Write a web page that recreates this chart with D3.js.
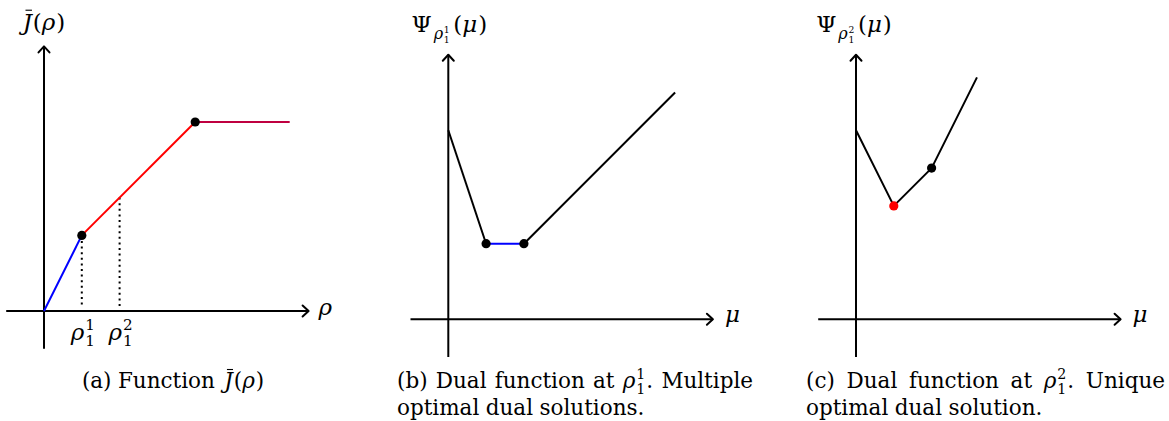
<!DOCTYPE html>
<html>
<head>
<meta charset="utf-8">
<script src="https://cdn.jsdelivr.net/npm/d3@7"></script>
<style>
  body { margin: 0; background: #fff; }
  text { font-family: "DejaVu Serif", "Liberation Serif", serif; white-space: pre; fill: #000; }
</style>
</head>
<body>
<div id="wrapper"></div>
<script>
// axis extent, same for all three panels (plot units)
const axisRange = [-1, 7]

// (a) J(rho): linear pieces, breakpoints, dotted drops
const aBlue = [[0, 0], [1, 2]]
const aRed = [[1, 2], [4, 5]]
const aPurple = [[4, 5], [6.5, 5]]
const aDots = [[1, 2], [4, 5]]
const aDrops = [[1, 2], [2, 3]]
const aTicks = [{x: 1, sup: "1"}, {x: 2, sup: "2"}]

// (b) dual function at rho_1^1
const bLeft = [[0, 5], [1, 2]]
const bFlat = [[1, 2], [2, 2]]
const bRight = [[2, 2], [6, 6]]
const bDots = [[1, 2], [2, 2]]

// (c) dual function at rho_1^2
const cLine = [[0, 5], [1, 3], [2, 4], [3.2, 6.4]]
const cOptimum = [[1, 3]]
const cDots = [[2, 4]]

function drawFigure() {

  // 1. dimensions
  const dimensions = { width: 1169, height: 421 }
  const unit = 37.8
  const fontSize = 21.5   // captions
  const labelSize = 23    // axis labels

  const wrapper = d3.select("#wrapper")
    .append("svg")
      .attr("width", dimensions.width)
      .attr("height", dimensions.height)

  // 2. helpers
  function put(g, x, y, str, size, italic) {
    return g.append("text")
      .attr("x", x).attr("y", y)
      .attr("font-size", size)
      .attr("font-style", italic ? "italic" : null)
      .text(str)
  }
  const textWidth = t => t.node().getComputedTextLength()

  // lays a run of tokens left to right; " " is a stretchable space
  function richLine(g, x0, y, tokens, opts = {}) {
    const base = opts.size || fontSize
    const placed = []
    let cx = 0, spaces = 0
    tokens.forEach(tok => {
      if (tok === " ") { cx += base * 0.3; spaces++; return }
      if (tok.gap) { cx += tok.gap; return }
      const size = tok.size || base
      const by = y + (tok.dy || 0)
      if (tok.sc) {
        // stacked super/subscript in one text element
        const s = size * 0.66
        const t = g.append("text").attr("font-size", s)
        const sup = t.append("tspan").attr("y", by - size * 0.42).text(tok.sc[0])
        const sub = t.append("tspan").attr("y", by + size * 0.27).text(tok.sc[1])
        const node = t.node()
        const w = Math.max(node.getSubStringLength(0, 1), node.getSubStringLength(1, 1))
        const off = cx, sp = spaces
        placed.push({off, sp, set: dx => { sup.attr("x", dx); sub.attr("x", dx) }})
        cx += w + size * 0.05
        return
      }
      const t = put(g, 0, by, tok.t, size, tok.it)
      const w = textWidth(t)
      const off = cx, sp = spaces
      placed.push({off, sp, set: dx => t.attr("x", dx)})
      if (tok.bar) {
        const bar = g.append("line")
          .attr("y1", by - size * 0.86).attr("y2", by - size * 0.86)
          .attr("stroke", "#000").attr("stroke-width", 1.1)
        placed.push({off, sp, set: dx => bar.attr("x1", dx + w * 0.3).attr("x2", dx + w * 1.0)})
      }
      cx += w + (tok.it ? size * 0.04 : 0)
    })
    let start = x0, extra = 0
    if (opts.anchor === "middle") start = x0 - cx / 2
    if (opts.justify && spaces) extra = (opts.justify - cx) / spaces
    placed.forEach(p => p.set(start + p.off + p.sp * extra))
  }

  function arrowHead(g, x, y, dir) {
    const pts = dir === "right"
      ? [[x - 6, y - 5.5], [x, y], [x - 6, y + 5.5]]
      : [[x - 5.5, y + 6], [x, y], [x + 5.5, y + 6]]
    g.append("path")
      .attr("d", d3.line()(pts))
      .attr("fill", "none").attr("stroke", "#000")
      .attr("stroke-width", 2).attr("stroke-linecap", "round")
      .attr("stroke-linejoin", "round")
  }

  // 3. one panel: scales, axes, labels
  function panel(ox, oy) {
    const g = wrapper.append("g")
    const xScale = d3.scaleLinear().domain([0, 1]).range([ox, ox + unit])
    const yScale = d3.scaleLinear().domain([0, 1]).range([oy, oy - unit])
    const line = d3.line().x(d => xScale(d[0])).y(d => yScale(d[1]))

    g.append("path")
      .attr("d", line([[axisRange[0], 0], [axisRange[1], 0]]))
      .attr("stroke", "#000").attr("stroke-width", 2)
    g.append("path")
      .attr("d", line([[0, axisRange[0]], [0, axisRange[1]]]))
      .attr("stroke", "#000").attr("stroke-width", 2)
    arrowHead(g, xScale(axisRange[1]), yScale(0), "right")
    arrowHead(g, xScale(0), yScale(axisRange[1]), "up")

    const path = (data, color) => g.append("path")
      .attr("d", line(data))
      .attr("fill", "none").attr("stroke", color)
      .attr("stroke-width", 2).attr("stroke-linejoin", "round")
    const dots = (data, color) => g.selectAll(null)
      .data(data).join("circle")
        .attr("cx", d => xScale(d[0]))
        .attr("cy", d => yScale(d[1]))
        .attr("r", 4.6)
        .attr("fill", color)

    return {g, xScale, yScale, path, dots}
  }

  // 4. panel (a)
  const a = panel(44, 311)
  aDrops.forEach(d => a.g.append("path")
    .attr("d", d3.line().x(p => a.xScale(p[0])).y(p => a.yScale(p[1]))([[d[0], d[1]], [d[0], 0.12]]))
    .attr("stroke", "#000").attr("stroke-width", 2)
    .attr("stroke-dasharray", "2,3.6"))
  a.path(aBlue, "#0000ff")
  a.path(aRed, "#ff0000")
  a.path(aPurple, "#bf0040")
  a.dots(aDots, "#000")
  aTicks.forEach(t => richLine(a.g, a.xScale(t.x) - 11, 340,
    [{t: "ρ", it: true}, {sc: [t.sup, "1"]}], {size: labelSize}))
  richLine(a.g, a.xScale(7) + 10, 315, [{t: "ρ", it: true}], {size: labelSize})
  richLine(a.g, a.xScale(0), 30,
    [{t: "J", it: true, bar: true}, {t: "("}, {t: "ρ", it: true}, {t: ")"}],
    {anchor: "middle", size: labelSize})
  richLine(a.g, 173, 388,
    [{t: "(a)"}, " ", {t: "Function"}, " ", {gap: 3}, {t: "J", it: true, bar: true},
     {t: "("}, {t: "ρ", it: true}, {t: ")"}],
    {anchor: "middle"})

  // 5. panel (b)
  const b = panel(448.3, 319.3)
  b.path(bLeft, "#000")
  b.path(bFlat, "#0000ff")
  b.path(bRight, "#000")
  b.dots(bDots, "#000")
  richLine(b.g, b.xScale(7) + 12, 322, [{t: "μ", it: true}], {size: labelSize})
  richLine(b.g, b.xScale(0) + 1, 32,
    [{t: "Ψ"}, {gap: 2}, {t: "ρ", it: true, size: 16, dy: 7}, {sc: ["1", "1"], size: 14, dy: 7},
     {gap: 3}, {t: "("}, {t: "μ", it: true}, {t: ")"}], {anchor: "middle", size: labelSize})
  richLine(b.g, 397, 388,
    [{t: "(b)"}, " ", {t: "Dual"}, " ", {t: "function"}, " ", {t: "at"}, " ",
     {t: "ρ", it: true}, {sc: ["1", "1"]}, {t: "."}, " ", {t: "Multiple"}], {justify: 356})
  richLine(b.g, 397, 415,
    [{t: "optimal"}, " ", {t: "dual"}, " ", {t: "solutions."}])

  // 6. panel (c)
  const c = panel(856, 319.3)
  c.path(cLine, "#000")
  c.dots(cOptimum, "#ff0000")
  c.dots(cDots, "#000")
  richLine(c.g, c.xScale(7) + 12, 322, [{t: "μ", it: true}], {size: labelSize})
  richLine(c.g, c.xScale(0) - 2, 32,
    [{t: "Ψ"}, {gap: 2}, {t: "ρ", it: true, size: 16, dy: 7}, {sc: ["2", "1"], size: 14, dy: 7},
     {gap: 3}, {t: "("}, {t: "μ", it: true}, {t: ")"}], {anchor: "middle", size: labelSize})
  richLine(c.g, 806, 388,
    [{t: "(c)"}, " ", {t: "Dual"}, " ", {t: "function"}, " ", {t: "at"}, " ",
     {t: "ρ", it: true}, {sc: ["2", "1"]}, {t: "."}, " ", {t: "Unique"}], {justify: 359})
  richLine(c.g, 806, 415,
    [{t: "optimal"}, " ", {t: "dual"}, " ", {t: "solution."}])
}
drawFigure()
</script>
</body>
</html>
